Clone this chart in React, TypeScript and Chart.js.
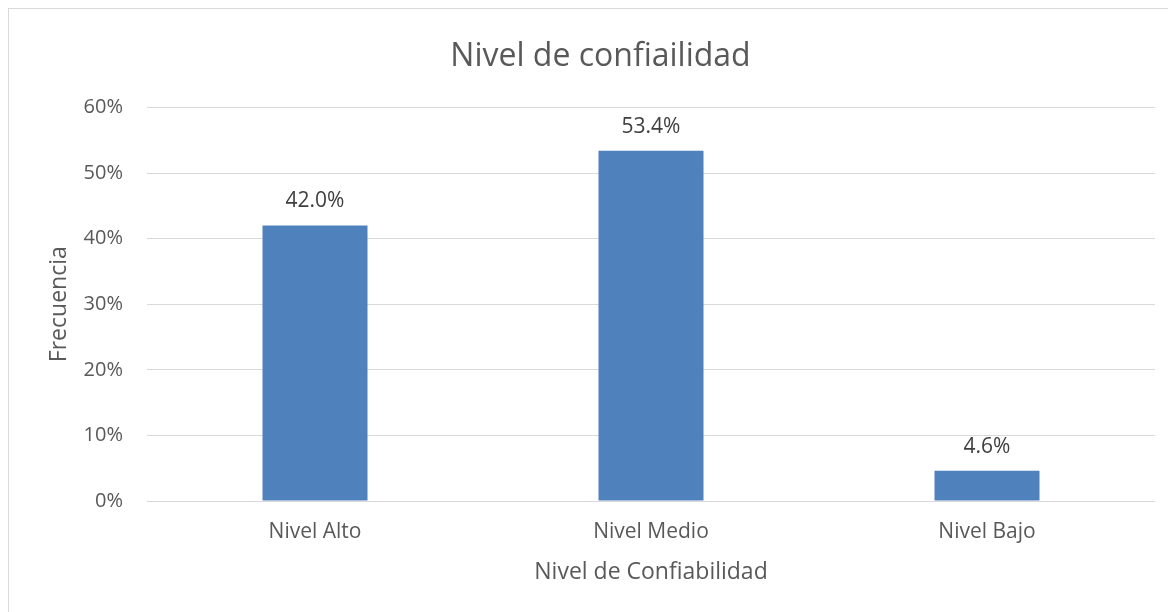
import React, { useEffect, useRef } from "react";
import { Chart, registerables } from "chart.js";

Chart.register(...registerables);

const categories = ["Nivel Alto", "Nivel Medio", "Nivel Bajo"];
const frecuencia = [42.0, 53.4, 4.6];
const yTicks = [0, 10, 20, 30, 40, 50, 60];

const FONT = "'Open Sans', 'Segoe UI', sans-serif";

const dataLabels = {
  id: "dataLabels",
  afterDatasetsDraw(chart: any) {
    const ctx = chart.ctx;
    const meta = chart.getDatasetMeta(0);
    ctx.save();
    ctx.font = `21px ${FONT}`;
    ctx.fillStyle = "#404040";
    ctx.textAlign = "center";
    ctx.textBaseline = "middle";
    meta.data.forEach((bar: any, i: number) => {
      ctx.fillText(frecuencia[i].toFixed(1) + "%", bar.x, bar.y - 24);
    });
    ctx.restore();
  },
};

export default function App() {
  const ref = useRef<HTMLCanvasElement>(null);
  useEffect(() => {
    if (!ref.current) return;
    const chart = new Chart(ref.current, {
      type: "bar",
      data: {
        labels: categories,
        datasets: [
          {
            data: frecuencia,
            backgroundColor: "#4F81BD",
            barPercentage: 1,
            categoryPercentage: 0.3125,
          },
        ],
      },
      plugins: [dataLabels],
      options: {
        animation: false,
        responsive: true,
        maintainAspectRatio: false,
        layout: { padding: { left: 37, right: 32, top: 0, bottom: 41 } },
        plugins: {
          legend: { display: false },
          tooltip: { enabled: false },
          title: {
            display: true,
            text: "Nivel de confiailidad",
            color: "#595959",
            font: { family: FONT, size: 32, weight: "normal" },
            padding: { top: 29, bottom: 31 },
          },
        },
        scales: {
          x: {
            grid: { display: false, drawTicks: false },
            border: { display: false },
            ticks: {
              color: "#595959",
              font: { family: FONT, size: 21 },
              padding: 18,
            },
            title: {
              display: true,
              text: "Nivel de Confiabilidad",
              color: "#595959",
              font: { family: FONT, size: 23 },
              padding: 0,
            },
            afterFit(scale: any) {
              scale.height = 85;
            },
          },
          y: {
            min: 0,
            max: 60,
            afterBuildTicks(scale: any) {
              scale.ticks = yTicks.map((v) => ({ value: v }));
            },
            grid: { color: "#d9d9d9", lineWidth: 1, drawTicks: false },
            border: { display: false },
            ticks: {
              color: "#595959",
              font: { family: FONT, size: 20 },
              padding: 24,
              callback: (v: any) => v + "%",
            },
            title: {
              display: true,
              text: "Frecuencia",
              color: "#595959",
              font: { family: FONT, size: 23 },
              padding: 0,
            },
            afterFit(scale: any) {
              scale.width = 101;
            },
          },
        },
      },
    });
    return () => chart.destroy();
  }, []);
  return (
    <div
      style={{
        width: 1180,
        height: 620,
        border: "1px solid #d9d9d9",
        boxSizing: "border-box",
        background: "#fff",
      }}
    >
      <canvas ref={ref} />
    </div>
  );
}
